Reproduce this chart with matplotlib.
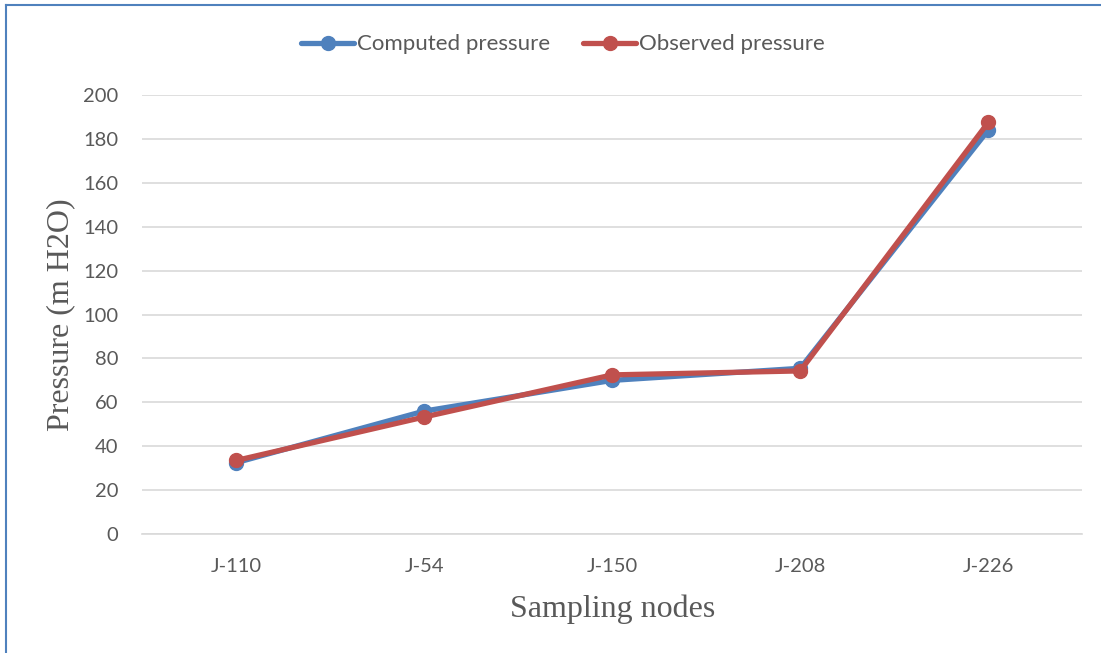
import matplotlib
matplotlib.use('Agg')
import matplotlib.pyplot as plt
from matplotlib.lines import Line2D

# --- data ---
nodes = ['J-110', 'J-54', 'J-150', 'J-208', 'J-226']
computed = [32.5, 56.0, 70.0, 75.5, 184.0]
observed = [33.5, 53.3, 72.5, 74.3, 187.5]
y_ticks = [0, 20, 40, 60, 80, 100, 120, 140, 160, 180, 200]

blue = '#4F81BD'
red = '#C0504D'
text_grey = '#595959'

fig = plt.figure(figsize=(11.01, 6.53), dpi=100)
ax = fig.add_axes([0.129, 0.1822, 0.854, 0.6723])

x = range(len(nodes))
ax.plot(x, computed, color=blue, linewidth=3.8, marker='o', markersize=10,
        label='Computed pressure', solid_capstyle='round')
ax.plot(x, observed, color=red, linewidth=3.8, marker='o', markersize=10,
        label='Observed pressure', solid_capstyle='round')

ax.set_xlim(-0.5, len(nodes) - 0.5)
ax.set_ylim(0, 200)
ax.set_yticks(y_ticks)
ax.set_xticks(list(x))
ax.set_xticklabels(nodes)

# horizontal gridlines only, Excel style
ax.grid(axis='y', color='#d9d9d9', linewidth=1.2)
ax.set_axisbelow(True)
for side in ['top', 'right', 'left']:
    ax.spines[side].set_visible(False)
ax.spines['bottom'].set_color('#d9d9d9')
ax.spines['bottom'].set_linewidth(1.2)
ax.tick_params(axis='both', length=0, labelsize=14.5, labelcolor=text_grey)
ax.tick_params(axis='x', pad=17)
ax.tick_params(axis='y', pad=17)
for lbl in ax.get_xticklabels() + ax.get_yticklabels():
    lbl.set_family('Lato')

ax.set_ylabel('Pressure (m H2O)', family='Liberation Serif', fontsize=23,
              color=text_grey, labelpad=6)
ax.set_xlabel('Sampling nodes', family='Liberation Serif', fontsize=23,
              color=text_grey, labelpad=14)

leg = fig.legend(loc='center', bbox_to_anchor=(0.511, 0.932), ncol=2,
                 frameon=False, handlelength=2.4, handletextpad=0.1,
                 columnspacing=1.5, prop={'family': 'Lato', 'size': 16})
for t in leg.get_texts():
    t.set_color(text_grey)

# chart frame: only the top and left edges show in the reference crop
fig.add_artist(Line2D([0.0055, 0.0055], [0, 0.9925], transform=fig.transFigure,
                      color=blue, linewidth=1.5))
fig.add_artist(Line2D([0.0055, 1.0], [0.9925, 0.9925], transform=fig.transFigure,
                      color=blue, linewidth=1.5))

fig.savefig('out.png', dpi=100)
